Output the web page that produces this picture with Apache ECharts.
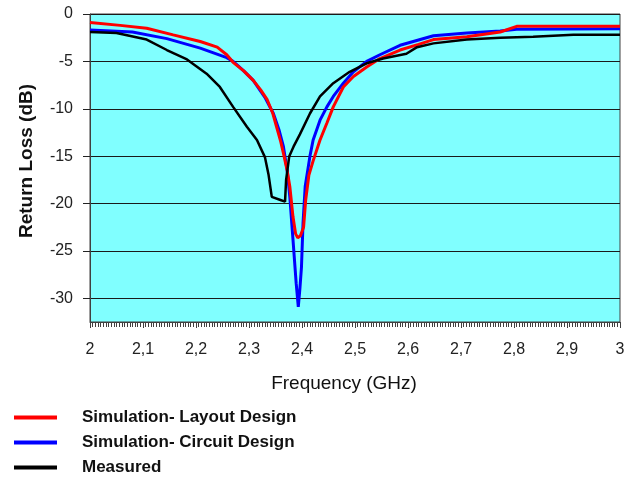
<!DOCTYPE html>
<html>
<head>
<meta charset="utf-8">
<script src="https://cdn.jsdelivr.net/npm/echarts@6/dist/echarts.min.js"></script>
<style>html,body{margin:0;padding:0;background:#fff}#c{width:634px;height:477px}</style>
</head>
<body>
<div id="c"></div>
<script>
var layoutFreq = [2.0,2.057,2.107,2.157,2.208,2.24,2.258,2.27,2.29,2.308,2.322,2.334,2.345,2.352,2.36,2.365,2.372,2.377,2.383,2.388,2.392,2.397,2.403,2.407,2.413,2.421,2.434,2.447,2.459,2.478,2.497,2.522,2.547,2.585,2.62,2.648,2.711,2.774,2.805,3.0];
var layoutDb = [-0.9,-1.2,-1.5,-2.2,-2.9,-3.5,-4.3,-5.1,-6.0,-7.0,-8.0,-9.0,-10.5,-11.9,-13.5,-14.7,-16.5,-18.2,-21.4,-23.2,-23.6,-23.4,-22.5,-19.6,-17.0,-15.5,-13.3,-11.5,-9.8,-7.7,-6.6,-5.6,-4.7,-3.8,-3.2,-2.7,-2.4,-1.9,-1.3,-1.3];

var circuitFreq = [2.0,2.08,2.145,2.208,2.258,2.27,2.29,2.308,2.33,2.346,2.357,2.365,2.372,2.377,2.383,2.389,2.393,2.396,2.399,2.402,2.406,2.415,2.421,2.434,2.447,2.459,2.478,2.497,2.522,2.547,2.585,2.648,2.711,2.774,2.805,3.0];
var circuitDb = [-1.7,-1.9,-2.6,-3.6,-4.6,-5.0,-6.0,-7.0,-8.8,-10.5,-12.3,-14.0,-16.5,-19.3,-23.8,-28.4,-30.9,-29.0,-26.7,-22.0,-18.2,-15.0,-13.3,-11.2,-9.8,-8.7,-7.3,-6.1,-5.0,-4.3,-3.3,-2.3,-2.0,-1.8,-1.6,-1.55];

var measuredFreq = [2.0,2.05,2.107,2.145,2.183,2.22,2.245,2.27,2.296,2.315,2.33,2.337,2.343,2.358,2.368,2.37,2.376,2.384,2.396,2.415,2.434,2.459,2.49,2.522,2.553,2.597,2.617,2.648,2.711,2.774,2.836,2.912,3.0];
var measuredDb = [-1.9,-2.0,-2.7,-3.8,-4.8,-6.3,-7.7,-9.8,-11.9,-13.3,-15.1,-17.0,-19.3,-19.6,-19.8,-17.5,-15.0,-14.0,-12.7,-10.5,-8.7,-7.3,-6.1,-5.2,-4.7,-4.2,-3.5,-3.1,-2.7,-2.5,-2.4,-2.2,-2.2];

var yTicks = [-30,-25,-20,-15,-10,-5,0];
var seriesNames = ['Simulation- Layout Design','Simulation- Circuit Design','Measured'];
var xTitle = 'Frequency (GHz)';
var yTitle = 'Return Loss (dB)';

function pairs(xs, ys){ return xs.map(function(x,i){ return [x, ys[i]]; }); }

var chart = echarts.init(document.getElementById('c'), null, {renderer:'canvas'});
var font = 'Liberation Sans, Arial, sans-serif';
chart.setOption({
  animation: false,
  backgroundColor: '#ffffff',
  grid: {left: 90, right: 14, top: 14, bottom: 155, show: true, backgroundColor: '#80FFFF', borderColor: '#404040', borderWidth: 1},
  legend: {
    data: seriesNames,
    orient: 'vertical', left: 9, top: 404, height: 120,
    itemWidth: 43, itemHeight: 4, itemGap: 8,
    icon: 'rect',
    textStyle: {fontFamily: font, fontSize: 17, fontWeight: 'bold', color: '#111', padding: [0,0,0,20]}
  },
  xAxis: {
    type: 'value', min: 2, max: 3, interval: 0.1,
    name: xTitle, nameLocation: 'middle', nameGap: 52,
    nameTextStyle: {fontFamily: font, fontSize: 19, color: '#111', padding: [0,22,0,0]},
    axisLine: {show: true, onZero: false, lineStyle: {color: '#404040', width: 1}},
    axisTick: {show: true, inside: false, length: 6, lineStyle: {color: '#404040'}},
    minorTick: {show: true, splitNumber: 20, length: 5, lineStyle: {color: '#404040'}},
    splitLine: {show: false},
    axisLabel: {fontFamily: font, fontSize: 16, color: '#222', margin: 20,
      formatter: function(v){ return String(Math.round(v*10)/10).replace('.', ','); }}
  },
  yAxis: {
    type: 'value', min: -32.5, max: 0, splitNumber: 7,
    name: yTitle, nameLocation: 'middle', nameGap: 54,
    nameTextStyle: {fontFamily: font, fontSize: 19, fontWeight: 'bold', color: '#111', padding: [0,0,0,14]},
    axisLine: {show: true, onZero: false, lineStyle: {color: '#404040', width: 1}},
    axisTick: {show: true, inside: false, length: 7, customValues: yTicks, lineStyle: {color: '#222'}},
    splitLine: {show: true, lineStyle: {color: '#1a1a1a', width: 1}},
    axisLabel: {fontFamily: font, fontSize: 16, color: '#222', margin: 17, customValues: yTicks,
      formatter: function(v){ return String(v); }}
  },
  series: [
    {name: seriesNames[1], type: 'line', data: pairs(circuitFreq, circuitDb), showSymbol: false, z: 2,
     lineStyle: {color: '#0000FF', width: 3}, itemStyle: {color: '#0000FF'}},
    {name: seriesNames[0], type: 'line', data: pairs(layoutFreq, layoutDb), showSymbol: false, z: 3,
     lineStyle: {color: '#FF0000', width: 3}, itemStyle: {color: '#FF0000'}},
    {name: seriesNames[2], type: 'line', data: pairs(measuredFreq, measuredDb), showSymbol: false, z: 4,
     lineStyle: {color: '#000000', width: 2.5}, itemStyle: {color: '#000000'}}
  ]
});
</script>
</body>
</html>
